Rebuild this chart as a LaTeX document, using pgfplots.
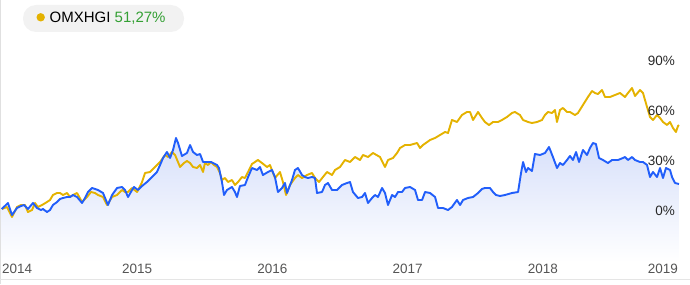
\documentclass[border=0pt]{standalone}
\usepackage{fontspec}
\setmainfont{Liberation Sans}
\usepackage{pgfplots}
\usepackage{pgfplotstable}
\pgfplotsset{compat=1.18}
\definecolor{cyel}{RGB}{228,178,0}
\definecolor{cblue}{RGB}{33,94,250}
\definecolor{cfill}{RGB}{214,223,250}
\definecolor{cgreen}{RGB}{52,160,52}
\definecolor{cpill}{RGB}{242,242,242}
\definecolor{cxlab}{RGB}{85,85,85}
\definecolor{cylab}{RGB}{40,40,40}
\pgfplotstableread{
x y
2013.998 0.9
2014.044 4.5
2014.074 -2.7
2014.111 1.5
2014.141 2.7
2014.163 3.3
2014.192 0.9
2014.229 4.5
2014.259 1.5
2014.288 0.3
2014.303 0.9
2014.333 -0.9
2014.355 0.3
2014.377 3.3
2014.407 5.1
2014.429 6.9
2014.451 7.5
2014.481 8.1
2014.503 8.1
2014.525 9.3
2014.555 8.1
2014.592 4.5
2014.614 7.5
2014.636 11.1
2014.666 13.5
2014.688 12.9
2014.710 12.3
2014.747 10.5
2014.784 3.3
2014.814 9.3
2014.851 13.5
2014.888 14.1
2014.910 12.3
2014.932 8.1
2014.962 12.3
2014.976 14.1
2015.006 12.3
2015.036 14.7
2015.072 17.1
2015.109 20.1
2015.146 23.1
2015.169 27.3
2015.191 31.5
2015.220 35.1
2015.243 31.5
2015.265 36.3
2015.287 43.5
2015.302 40.5
2015.331 32.7
2015.368 34.5
2015.391 39.3
2015.413 35.1
2015.442 33.3
2015.465 33.9
2015.487 29.1
2015.516 29.1
2015.546 29.1
2015.561 28.5
2015.590 27.3
2015.605 25.5
2015.627 17.1
2015.642 9.3
2015.664 12.3
2015.701 14.1
2015.723 11.1
2015.738 8.1
2015.760 14.7
2015.797 15.3
2015.820 20.1
2015.849 25.5
2015.886 24.3
2015.908 26.1
2015.930 21.3
2015.967 23.1
2015.997 24.3
2016.019 20.1
2016.041 11.1
2016.071 13.5
2016.093 16.5
2016.108 10.5
2016.145 18.3
2016.167 24.3
2016.189 25.5
2016.219 21.3
2016.241 20.1
2016.263 19.5
2016.293 20.1
2016.315 19.5
2016.330 10.5
2016.367 11.1
2016.389 15.3
2016.411 16.5
2016.441 12.3
2016.478 12.3
2016.515 15.3
2016.552 16.5
2016.574 17.1
2016.596 11.1
2016.633 7.5
2016.663 8.1
2016.685 10.5
2016.707 4.5
2016.737 7.5
2016.759 9.3
2016.781 8.1
2016.811 13.5
2016.833 10.5
2016.855 3.3
2016.885 9.3
2016.907 8.1
2016.929 11.1
2016.959 11.1
2016.981 13.5
2017.018 14.1
2017.055 12.3
2017.077 6.3
2017.107 6.3
2017.129 11.1
2017.166 10.5
2017.203 8.1
2017.225 1.5
2017.262 1.5
2017.299 0.3
2017.328 2.1
2017.365 6.3
2017.388 3.3
2017.410 6.3
2017.447 7.5
2017.484 8.1
2017.521 10.5
2017.550 12.9
2017.572 13.5
2017.609 13.5
2017.632 11.1
2017.654 9.3
2017.683 8.7
2017.720 9.3
2017.772 10.5
2017.817 11.1
2017.839 22.5
2017.854 29.1
2017.876 23.1
2017.891 25.5
2017.920 23.7
2017.942 33.9
2017.979 33.3
2018.016 34.5
2018.046 38.1
2018.075 32.1
2018.105 25.5
2018.127 28.5
2018.149 27.3
2018.179 30.3
2018.201 32.7
2018.223 30.3
2018.246 35.1
2018.268 29.1
2018.297 36.3
2018.327 33.3
2018.349 37.5
2018.371 40.5
2018.393 39.9
2018.416 31.5
2018.445 30.3
2018.482 28.5
2018.512 30.3
2018.556 30.3
2018.593 31.5
2018.608 32.1
2018.630 30.3
2018.660 32.1
2018.682 30.3
2018.719 29.1
2018.741 29.1
2018.771 27.3
2018.793 20.1
2018.815 23.1
2018.845 20.1
2018.867 25.5
2018.889 19.5
2018.911 25.5
2018.941 24.3
2018.956 20.1
2018.978 16.5
2019.007 15.9
}\bluedata
\pgfplotstableread{
x y
2019.007 -31
2013.998 -31
}\basedata
\pgfplotstablevertcat{\areadata}{\bluedata}
\pgfplotstablevertcat{\areadata}{\basedata}
\begin{document}
\begin{tikzpicture}[x=1pt,y=1pt]
\useasboundingbox (0,0) rectangle (690,284);
\draw[black!12, line width=1pt] (0.5,0) -- (0.5,284);
\draw[black!10, line width=1pt] (0,4.5) -- (690,4.5);
\begin{axis}[
  at={(0pt,22pt)}, anchor=south west,
  width=680pt, height=262pt, scale only axis,
  xmin=2013.9852, xmax=2019.0148, ymin=-30.9, ymax=126.3,
  axis on top,
  axis line style={draw=none}, major tick length=0pt,
  xtick={2014,2015,2016,2017,2018,2019},
  xticklabels={\rlap{2014},2015,2016,2017,2018,\llap{2019}},
  xticklabel style={anchor=north, inner sep=0pt, yshift=-1.5pt, text=cxlab, font=\fontsize{13.5}{16}\selectfont},
  ytick={0,30,60,90},
  yticklabels={0\%,30\%,60\%,90\%},
  yticklabel pos=right,
  yticklabel style={anchor=east, inner sep=0pt, xshift=-5pt, text=cylab, font=\fontsize{13.5}{16}\selectfont},
  clip=true,
]
\addplot[draw=none, top color=cfill, bottom color=white] table {\areadata};
\addplot[cyel, line width=1.9pt, line join=round] table {
2014.000 0.9
2014.037 2.1
2014.074 -3.9
2014.111 2.1
2014.141 3.3
2014.170 3.3
2014.192 -0.9
2014.222 0.3
2014.244 4.5
2014.266 2.1
2014.296 3.3
2014.333 5.1
2014.355 6.3
2014.377 9.3
2014.407 10.5
2014.429 10.5
2014.451 9.3
2014.481 10.5
2014.503 8.1
2014.525 9.3
2014.555 10.5
2014.592 5.1
2014.629 8.1
2014.658 11.1
2014.688 10.5
2014.710 9.3
2014.747 8.1
2014.777 3.3
2014.814 8.1
2014.851 9.3
2014.888 12.3
2014.910 11.1
2014.932 11.1
2014.962 13.5
2014.999 11.1
2015.036 17.1
2015.058 22.5
2015.095 23.1
2015.132 26.1
2015.169 29.1
2015.206 33.3
2015.228 32.1
2015.257 35.1
2015.280 33.3
2015.317 26.1
2015.346 28.5
2015.368 29.7
2015.391 28.5
2015.413 26.1
2015.442 25.5
2015.465 27.3
2015.487 23.1
2015.501 28.5
2015.524 27.3
2015.546 29.1
2015.568 27.3
2015.590 26.1
2015.612 22.5
2015.627 18.3
2015.649 19.5
2015.672 17.1
2015.701 18.3
2015.723 15.3
2015.746 17.1
2015.775 20.1
2015.797 19.5
2015.820 23.1
2015.849 27.9
2015.871 29.1
2015.893 30.3
2015.923 28.5
2015.960 26.1
2015.982 27.3
2016.019 19.5
2016.056 23.1
2016.078 17.1
2016.101 9.3
2016.130 15.3
2016.167 19.5
2016.189 21.3
2016.219 19.5
2016.256 21.3
2016.293 22.5
2016.315 19.5
2016.345 17.1
2016.374 20.1
2016.404 23.1
2016.441 21.3
2016.463 24.3
2016.500 26.1
2016.537 30.3
2016.574 29.1
2016.611 32.1
2016.648 30.3
2016.670 33.3
2016.707 32.1
2016.744 34.5
2016.796 32.1
2016.833 26.1
2016.855 30.3
2016.892 31.5
2016.922 34.5
2016.944 37.5
2016.981 39.3
2017.018 39.3
2017.070 40.5
2017.092 37.5
2017.114 39.3
2017.166 42.3
2017.203 43.5
2017.240 45.3
2017.277 47.1
2017.299 46.5
2017.328 54.3
2017.365 53.1
2017.402 57.3
2017.439 59.1
2017.462 59.1
2017.484 54.3
2017.521 59.1
2017.550 55.5
2017.572 53.1
2017.602 51.3
2017.632 53.1
2017.669 53.1
2017.698 54.3
2017.735 56.1
2017.772 58.5
2017.794 59.1
2017.831 57.3
2017.854 54.3
2017.891 53.1
2017.920 52.5
2017.957 53.1
2017.994 54.3
2018.016 57.3
2018.038 59.1
2018.068 58.5
2018.090 60.3
2018.105 53.1
2018.127 60.3
2018.149 61.5
2018.179 59.1
2018.201 59.1
2018.238 57.3
2018.260 58.5
2018.297 63.3
2018.334 68.1
2018.364 71.7
2018.386 70.5
2018.408 69.9
2018.438 72.3
2018.460 68.1
2018.497 68.1
2018.534 69.3
2018.571 70.5
2018.608 68.1
2018.630 70.5
2018.660 73.5
2018.682 68.7
2018.719 72.3
2018.741 70.5
2018.771 62.1
2018.793 56.1
2018.815 54.3
2018.845 57.3
2018.867 55.5
2018.889 53.1
2018.919 51.3
2018.941 53.1
2018.963 49.5
2018.985 47.1
2019.000 50.7
2019.007 51.3
};
\addplot[cblue, line width=1.9pt, line join=round] table {\bluedata};
\end{axis}
\fill[cpill, rounded corners=13pt] (23,252) rectangle (184,279);
\fill[cyel] (40.7,266.7) circle (4.2);
\node[anchor=base west, inner sep=0pt, font=\fontsize{15}{18}\selectfont] at (49.5,261.3) {OMXHGI \textcolor{cgreen}{51,27\%}};
\end{tikzpicture}
\end{document}
